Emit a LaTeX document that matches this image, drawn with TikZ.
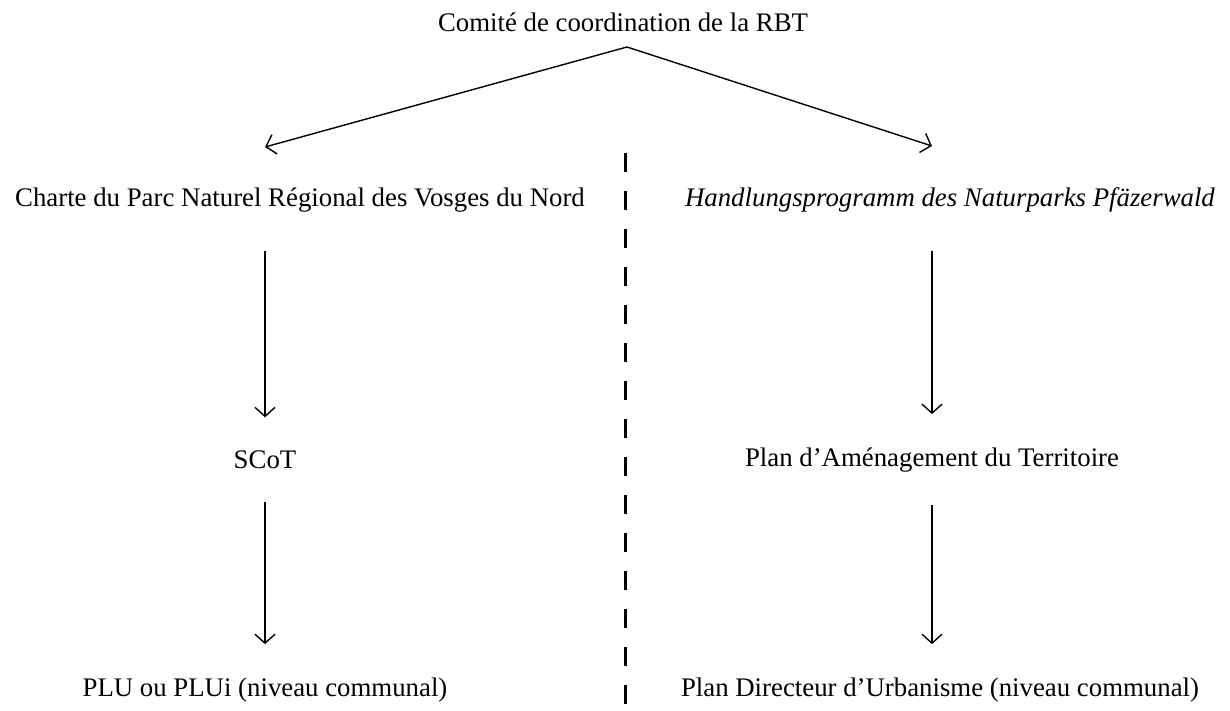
\documentclass[tikz,border=0pt]{standalone}
\usepackage{fontspec}
\setmainfont{Liberation Serif}
\usetikzlibrary{arrows.meta}
\tikzset{etiq/.style={inner sep=2pt, font=\fontsize{13.4}{16}\selectfont}}

\begin{document}
\begin{tikzpicture}[x=0.5pt, y=-0.5pt, line width=0.7pt,
		>={Straight Barb[length=4.5pt,width=10pt]}]   %Pixelraster des Originals
	\useasboundingbox (0,0) rectangle (1230,711);
	\node[etiq] (comite) at (623,22) {Comité de coordination de la RBT};
	\node[etiq] (charte) at (300,200) {Charte du Parc Naturel Régional des Vosges du Nord};
	\node[etiq] (handlung) at (950,200) {\itshape Handlungsprogramm des Naturparks Pfäzerwald};
	\node[etiq] (scot) at (265,460) {SCoT};
	\node[etiq] (amenag) at (932,460) {Plan d’Aménagement du Territoire};
	\node[etiq] (plu) at (265,690) {PLU ou PLUi (niveau communal)};
	\node[etiq] (directeur) at (940,690) {Plan Directeur d’Urbanisme (niveau communal)};
	%Verzweigung
	\coordinate (sommet) at (627,47);
	\coordinate (gauche) at (265,147);
	\coordinate (droite) at (932,146);
	\draw[->] (sommet) -- (gauche);
	\draw[->] (sommet) -- (droite);
	%senkrechte Pfeile
	\draw[->, shorten <=17pt, shorten >=14.5pt] (charte.south -| scot.north) -- (scot.north);
	\draw[->, shorten <=17pt, shorten >=14.5pt] (handlung.south -| amenag.north) -- (amenag.north);
	\draw[->, shorten <=14pt, shorten >=14.5pt] (scot.south) -- (plu.north -| scot.south);
	\draw[->, shorten <=14pt, shorten >=14.5pt] (amenag.south) -- (directeur.north -| amenag.south);
	%Trennlinie
	\draw[line width=1.5pt, dash pattern=on 9.5pt off 9.5pt] (625,153) -- (625,711);
\end{tikzpicture}
\end{document}
